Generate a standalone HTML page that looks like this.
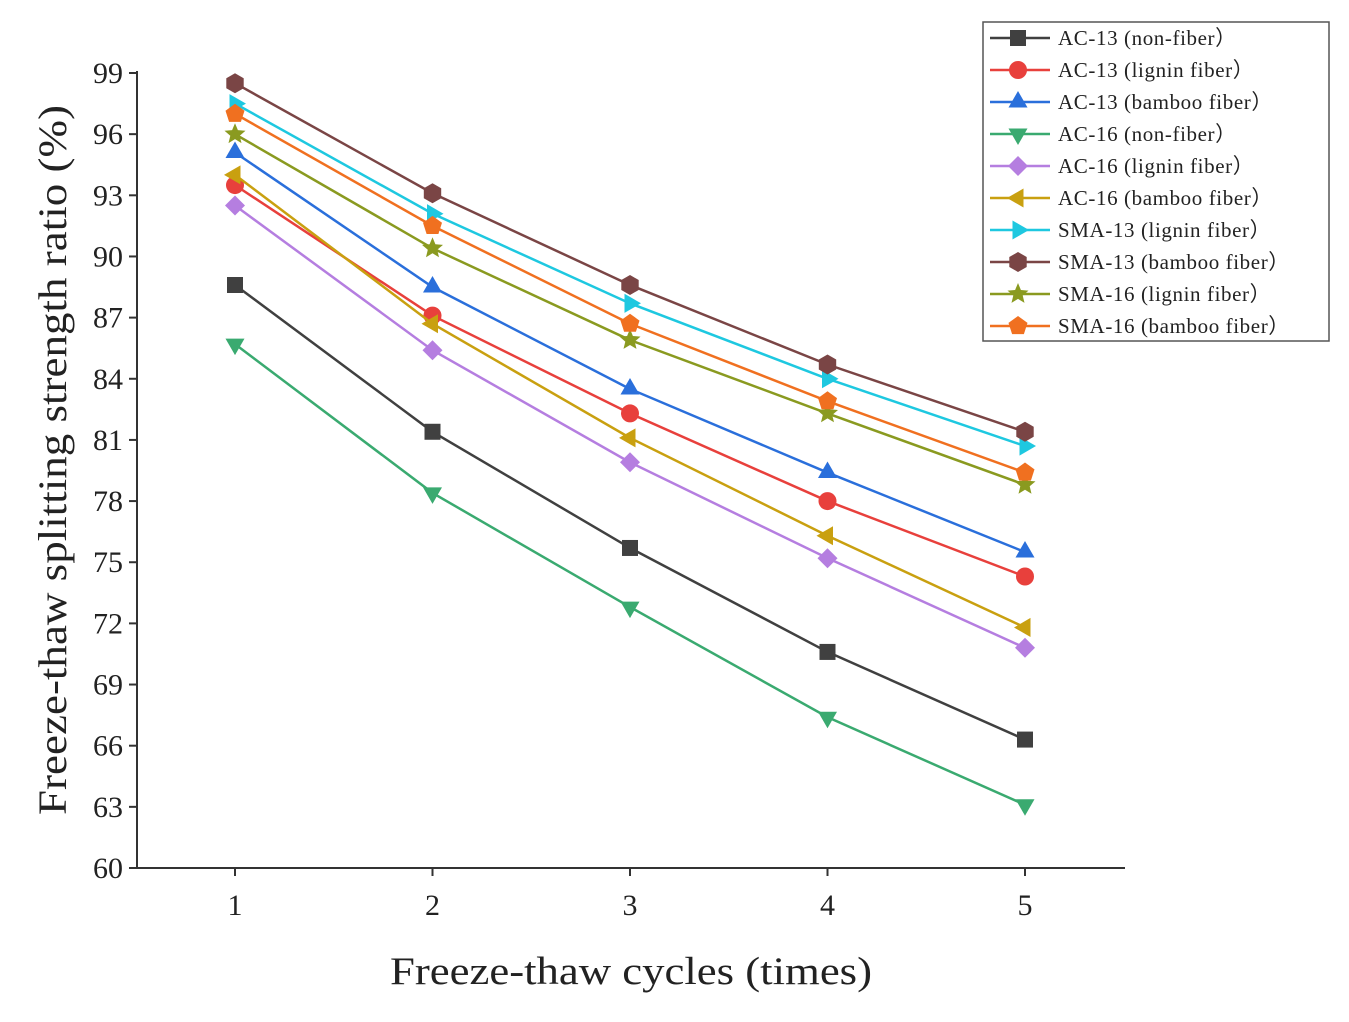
<!DOCTYPE html>
<html><head><meta charset="utf-8"><style>
body{margin:0;background:#fff;}
svg{display:block;font-family:"Liberation Serif",serif;}
</style></head><body>
<svg id="chart" width="1349" height="1022" viewBox="0 0 1349 1022"></svg>
<script>
const categories=[1,2,3,4,5];
const yTicks=[60,63,66,69,72,75,78,81,84,87,90,93,96,99];
const seriesNames=["AC-13 (non-fiber\uFF09","AC-13 (lignin fiber\uFF09","AC-13 (bamboo fiber\uFF09","AC-16 (non-fiber\uFF09","AC-16 (lignin fiber\uFF09","AC-16 (bamboo fiber\uFF09","SMA-13 (lignin fiber\uFF09","SMA-13 (bamboo fiber\uFF09","SMA-16 (lignin fiber\uFF09","SMA-16 (bamboo fiber\uFF09"];
const ac13Non=[88.6,81.4,75.7,70.6,66.3];
const ac13Lignin=[93.5,87.1,82.3,78.0,74.3];
const ac13Bamboo=[95.1,88.5,83.5,79.4,75.5];
const ac16Non=[85.7,78.4,72.8,67.4,63.1];
const ac16Lignin=[92.5,85.4,79.9,75.2,70.8];
const ac16Bamboo=[94.0,86.7,81.1,76.3,71.8];
const sma13Lignin=[97.5,92.1,87.7,84.0,80.7];
const sma13Bamboo=[98.5,93.1,88.6,84.7,81.4];
const sma16Lignin=[96.0,90.4,85.9,82.3,78.8];
const sma16Bamboo=[97.0,91.5,86.7,82.9,79.4];
const allSeries=[ac13Non,ac13Lignin,ac13Bamboo,ac16Non,ac16Lignin,ac16Bamboo,sma13Lignin,sma13Bamboo,sma16Lignin,sma16Bamboo];
const colors=["#404040","#e8403c","#2a6fdb","#3aaa70","#b57ee0","#c9a010","#1ec8e0","#7a4545","#8a9a20","#f07020"];
const shapes=["square","circle","up","down","diamond","left","right","hex","star","pent"];
const svg=document.getElementById('chart');
const NS="http://www.w3.org/2000/svg";
const X0=137,X1=1125,Y0=868,Y1=73;
const xs=c=>235+(c-1)*197.5;
const ys=v=>Y0-(v-60)*(Y0-Y1)/39;
function mk(t,a,txt){const e=document.createElementNS(NS,t);for(const k in a)e.setAttribute(k,a[k]);if(txt!==undefined)e.textContent=txt;svg.appendChild(e);return e;}
let e=mk('line',{x1:X0,y1:Y0,x2:X1,y2:Y0,stroke:'#333','stroke-width':2});

e=mk('line',{x1:X0,y1:Y0,x2:X0,y2:Y1-2,stroke:'#333','stroke-width':2});

yTicks.forEach(t=>{const y=ys(t);
 e=mk('line',{x1:X0-8,y1:y,x2:X0,y2:y,stroke:'#333','stroke-width':2});
 
 e=mk('text',{x:X0-14,y:y+10,'text-anchor':'end','font-size':30,fill:'#222'},t);
 });
categories.forEach(c=>{const x=xs(c);
 e=mk('line',{x1:x,y1:Y0,x2:x,y2:Y0+8,stroke:'#333','stroke-width':2});
 
 e=mk('text',{x:x,y:915,'text-anchor':'middle','font-size':30,fill:'#222'},c);
 });
e=mk('text',{x:631,y:984,'text-anchor':'middle','font-size':39,fill:'#222',textLength:482,lengthAdjust:'spacingAndGlyphs'},'Freeze-thaw cycles (times)');

e=mk('text',{x:66,y:460,'text-anchor':'middle','font-size':40,fill:'#222',textLength:710,lengthAdjust:'spacingAndGlyphs',transform:'rotate(-90 66 460)'},'Freeze-thaw splitting strength ratio (%)');

function poly(n,r,off,cx,cy,inner){let p=[];const k=inner?n*2:n;for(let i=0;i<k;i++){const a=off+i*2*Math.PI/k;const rr=inner&&i%2?r*inner:r;p.push((cx+rr*Math.cos(a)).toFixed(1)+','+(cy+rr*Math.sin(a)).toFixed(1));}return p.join(' ');}
function marker(s,cx,cy,col){const r=10;let el;
 if(s==='square')el=mk('rect',{x:cx-8,y:cy-8,width:16,height:16,fill:col});
 else if(s==='circle')el=mk('circle',{cx:cx,cy:cy,r:9,fill:col});
 else if(s==='up')el=mk('polygon',{points:poly(3,r+1,-Math.PI/2,cx,cy),fill:col});
 else if(s==='down')el=mk('polygon',{points:poly(3,r+1,Math.PI/2,cx,cy),fill:col});
 else if(s==='left')el=mk('polygon',{points:poly(3,r+1,Math.PI,cx,cy),fill:col});
 else if(s==='right')el=mk('polygon',{points:poly(3,r+1,0,cx,cy),fill:col});
 else if(s==='diamond')el=mk('polygon',{points:poly(4,r,0,cx,cy),fill:col});
 else if(s==='hex')el=mk('polygon',{points:poly(6,r,Math.PI/6,cx,cy),fill:col});
 else if(s==='pent')el=mk('polygon',{points:poly(5,r,-Math.PI/2,cx,cy),fill:col});
 else el=mk('polygon',{points:poly(5,r+1,-Math.PI/2,cx,cy,0.45),fill:col});
 return el;}
allSeries.forEach((vals,i)=>{
 const pts=vals.map((v,j)=>xs(categories[j])+','+ys(v)).join(' ');
 let l=mk('polyline',{points:pts,fill:'none',stroke:colors[i],'stroke-width':2.5});
 
 
 vals.forEach((v,j)=>{let m=marker(shapes[i],xs(categories[j]),ys(v),colors[i]);
  
  });
});
e=mk('rect',{x:983,y:22,width:346,height:319,fill:'#fff',stroke:'#555','stroke-width':1.5});

seriesNames.forEach((n,i)=>{const y=38+i*32;
 let l=mk('line',{x1:990,y1:y,x2:1050,y2:y,stroke:colors[i],'stroke-width':2.5});
 
 let m=marker(shapes[i],1018,y,colors[i]);
 
 let t=mk('text',{x:1058,y:y+7,'font-size':21,'letter-spacing':0.6,fill:'#222'},n);
 });
</script>
</body></html>
